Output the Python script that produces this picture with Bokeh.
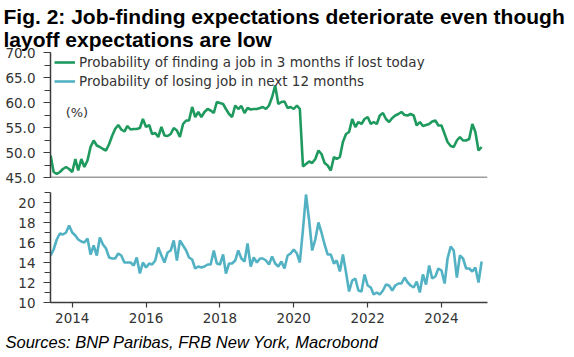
import pandas as pd
from bokeh.plotting import figure
from bokeh.layouts import column
from bokeh.models import (Range1d, SingleIntervalTicker, NumeralTickFormatter, Span,
                          Legend, LegendItem, Label, Title, FixedTicker, DatetimeTickFormatter)
from bokeh.embed import file_html
from bokeh.resources import INLINE

# ---------------- data (monthly, June 2013 onwards) ----------------
start_month = "2013-06-01"
job_finding = [
    49.4, 46.1, 45.7, 46.1, 46.7, 47.1, 46.7, 46.1, 48.7, 46.4,
    48.7, 47.1, 48.4, 51.1, 52.4, 51.4, 51.1, 50.7, 50.4, 51.7,
    53.4, 54.7, 55.5, 54.6, 54.2, 55.3, 54.6, 54.7, 54.7, 54.9,
    56.7, 55.1, 55.5, 53.7, 53.9, 53.1, 55.1, 53.4, 53.3, 53.7,
    54.9, 54.4, 53.1, 55.7, 56.4, 56.4, 59.1, 57.1, 58.1, 57.1,
    58.1, 58.7, 58.4, 57.9, 60.1, 59.9, 59.7, 58.7, 57.7, 57.1,
    59.4, 58.7, 59.3, 57.9, 58.9, 58.6, 58.7, 58.7, 58.9, 59.1,
    58.7, 59.4, 61.1, 63.4, 59.7, 60.1, 60.2, 58.9, 59.1, 58.7,
    59.4, 58.7, 47.2, 47.7, 48.2, 47.9, 48.7, 50.4, 49.7, 47.9,
    47.4, 46.4, 49.1, 48.7, 49.1, 52.1, 53.7, 54.1, 56.7, 55.1,
    56.1, 55.7, 56.7, 57.1, 55.7, 56.1, 55.7, 57.4, 57.9, 56.7,
    56.1, 56.9, 57.4, 57.7, 58.1, 57.5, 57.4, 57.7, 57.4, 55.4,
    56.1, 55.3, 55.5, 55.7, 56.2, 56.4, 55.4, 55.4, 53.7, 52.1,
    51.3, 51.1, 52.4, 53.1, 52.4, 52.4, 52.7, 55.7, 54.1, 50.4,
    51.1,
]
job_loss = [
    14.7, 15.3, 16.3, 16.9, 16.8, 17.0, 17.7, 17.0, 16.7, 16.3,
    16.1, 16.0, 16.4, 14.8, 15.7, 14.7, 16.5, 15.8, 15.4, 14.5,
    14.4, 14.4, 14.9, 14.7, 14.0, 14.0, 14.0, 13.7, 14.5, 12.9,
    14.0, 13.5, 13.9, 13.8, 14.2, 15.5, 14.7, 14.0, 15.0, 15.2,
    16.2, 14.2, 16.2, 15.7, 15.2, 14.5, 14.3, 13.4, 13.6, 13.5,
    13.6, 13.8, 13.8, 15.2, 13.9, 13.8, 14.8, 12.9, 13.9, 13.9,
    14.2, 15.2, 14.4, 14.1, 15.9, 13.6, 14.5, 14.0, 14.4, 14.4,
    14.2, 13.8, 14.6, 13.9, 13.6, 14.1, 13.4, 14.7, 14.9, 15.3,
    14.9, 14.0, 17.3, 20.8, 18.2, 15.2, 16.3, 18.0, 17.0, 15.8,
    14.8, 14.8, 13.9, 14.2, 13.1, 14.8, 13.0, 11.1, 12.2, 12.4,
    11.2, 11.1, 12.8, 11.7, 11.5, 10.8, 11.0, 10.8, 11.2, 11.8,
    11.7, 11.2, 11.7, 11.9, 11.9, 12.5, 12.0, 11.7, 11.5, 12.1,
    11.0, 12.8, 11.8, 13.7, 12.4, 12.6, 13.4, 13.2, 11.9, 14.4,
    15.6, 15.2, 12.5, 14.7, 14.4, 13.4, 13.4, 13.1, 13.5, 12.0,
    14.1,
]
tick_years = [2014, 2016, 2018, 2020, 2022, 2024]
series_labels = ["Probability of finding a job in 3 months if lost today",
                 "Probability of losing job in next 12 months"]
title_text = "Fig. 2: Job-finding expectations deteriorate even though\nlayoff expectations are low"
source_text = "Sources: BNP Paribas, FRB New York, Macrobond"

dates = pd.date_range(start_month, periods=len(job_finding), freq="MS")

GREEN = "#1f9a5e"
TEAL = "#52b2c4"
AX = "#3c3c3c"
TXT = "#333333"
TICK_FONT = "DejaVu Sans"


def ms(ts):
    return pd.Timestamp(ts).value // 10**6


x_range = Range1d(ms("2013-05-31"), ms("2025-03-31"))


def style_yaxis(ax, interval, fmt):
    ax.ticker = SingleIntervalTicker(interval=interval, num_minor_ticks=2)
    ax.formatter = NumeralTickFormatter(format=fmt)
    ax.axis_line_color = AX
    ax.axis_line_width = 1.5
    ax.major_tick_line_color = AX
    ax.minor_tick_line_color = AX
    ax.major_tick_line_width = 1.2
    ax.minor_tick_line_width = 1.2
    ax.major_tick_in = 0
    ax.major_tick_out = 7
    ax.minor_tick_in = 0
    ax.minor_tick_out = 6
    ax.major_label_standoff = 8
    ax.major_label_text_font = TICK_FONT
    ax.major_label_text_font_size = "13.5px"
    ax.major_label_text_color = TXT


# ---------------- top panel ----------------
top = figure(width=574, height=190, x_axis_type="datetime", x_range=x_range,
             y_range=Range1d(45, 70), x_axis_location=None,
             output_backend="svg", toolbar_location=None,
             min_border_left=50, min_border_right=87, min_border_top=52,
             min_border_bottom=13, title=title_text)
top.title.text_font = "Liberation Sans"
top.title.text_font_size = "21px"
top.title.text_font_style = "bold"
top.title.text_color = "#000000"
top.title.align = "left"
top.title.offset = -47
top.title.standoff = 4
top.title.text_line_height = 1.0
top.grid.visible = False
top.outline_line_color = None
style_yaxis(top.yaxis[0], 5, "0.0")
top.add_layout(Span(location=45, dimension="width", line_color=AX, line_width=1.5))

r_find = top.line(dates, job_finding, line_color=GREEN, line_width=2.6)
# the layoff series lies below this panel's range (clipped); it only supplies the legend key
r_loss_key = top.line(dates, job_loss, line_color=TEAL, line_width=2.6)

legend = Legend(items=[LegendItem(label=series_labels[0], renderers=[r_find]),
                       LegendItem(label=series_labels[1], renderers=[r_loss_key])],
                location=(4, 88), orientation="vertical",
                border_line_color=None, background_fill_alpha=0,
                label_text_font=TICK_FONT, label_text_font_size="13.5px",
                label_text_color=TXT, glyph_width=21, glyph_height=14,
                label_height=14, spacing=3, padding=1, margin=0, label_standoff=4)
top.add_layout(legend)

top.add_layout(Label(x=ms("2013-10-28"), y=58.1, text="(%)", text_font=TICK_FONT,
                     text_font_size="13px", text_baseline="middle", text_color=TXT))

# ---------------- bottom panel ----------------
bot = figure(width=574, height=167, x_axis_type="datetime", x_range=x_range,
             y_range=Range1d(10, 21), output_backend="svg", toolbar_location=None,
             min_border_left=50, min_border_right=87, min_border_top=2,
             min_border_bottom=55)
bot.grid.visible = False
bot.outline_line_color = None
style_yaxis(bot.yaxis[0], 2, "0")
bot.line(dates, job_loss, line_color=TEAL, line_width=2.6)

xa = bot.xaxis[0]
xa.ticker = FixedTicker(ticks=[ms(f"{y}-01-01") for y in tick_years])
xa.formatter = DatetimeTickFormatter(years="%Y", months="%Y", days="%Y")
xa.axis_line_color = AX
xa.axis_line_width = 1.5
xa.major_tick_line_color = AX
xa.major_tick_line_width = 1.2
xa.major_tick_in = 0
xa.major_tick_out = 5
xa.minor_tick_line_color = None
xa.major_label_standoff = 5
xa.major_label_text_font = TICK_FONT
xa.major_label_text_font_size = "13.5px"
xa.major_label_text_color = TXT

bot.add_layout(Title(text=source_text, align="left", offset=-45,
                     text_font="Liberation Sans", text_font_style="italic",
                     text_font_size="16.5px", text_color="#000000", standoff=10), "below")

layout = column(top, bot, spacing=0)
open("out.html", "w").write(file_html(layout, INLINE))
